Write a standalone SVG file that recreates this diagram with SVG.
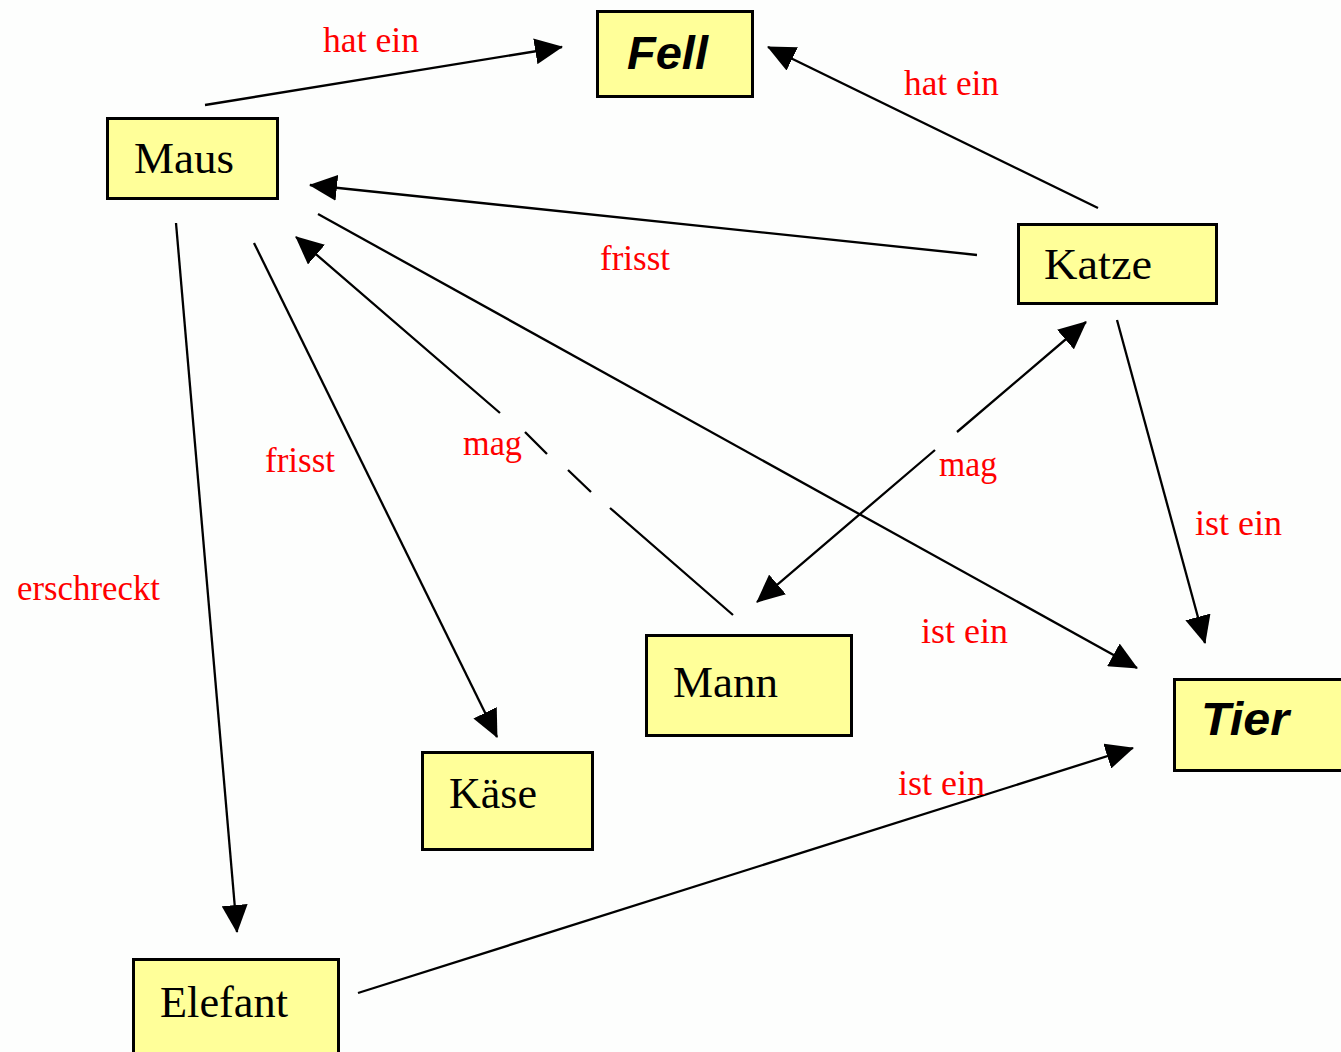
<svg xmlns="http://www.w3.org/2000/svg" width="1341" height="1052" viewBox="0 0 1341 1052">
  <style>
    .box { fill: #FFFF99; stroke: #000000; stroke-width: 3; }
    .ntext { font-family: "Liberation Serif", "Times New Roman", serif; font-size: 45px; fill: #000000; }
    .btext { font-family: "Liberation Sans", Arial, sans-serif; font-size: 46px; font-weight: bold; font-style: italic; fill: #000000; }
    .label { font-family: "Liberation Serif", "Times New Roman", serif; font-size: 35px; fill: #FF0000; }
    .edge { fill: none; stroke: #000000; stroke-width: 2.3; }
  </style>
  <defs>
    <marker id="arrow" viewBox="0 0 28 26" markerWidth="28" markerHeight="26" refX="27" refY="13" orient="auto-start-reverse" markerUnits="userSpaceOnUse">
      <path d="M0,0 L28,13 L0,26 z" fill="#000000"/>
    </marker>
  </defs>
  <rect x="0" y="0" width="1341" height="1052" fill="#FDFEFD"/>

  <g id="connectors">
    <path class="edge" d="M205,105 L562,47" marker-end="url(#arrow)"/>
    <path class="edge" d="M1098,208 L768,47" marker-end="url(#arrow)"/>
    <path class="edge" d="M977,255 L310,185" marker-end="url(#arrow)"/>
    <path class="edge" d="M254,243 L497,737" marker-end="url(#arrow)"/>
    <path class="edge" d="M733,615 L610,508 M591,492 L568,470 M547,454 L525,432 M500,413 L296,237" marker-end="url(#arrow)"/>
    <path class="edge" d="M757,602 L935,450 M957,432 L1086,322" marker-start="url(#arrow)" marker-end="url(#arrow)"/>
    <path class="edge" d="M318,214 L1137,668" marker-end="url(#arrow)"/>
    <path class="edge" d="M1117,320 L1205,643" marker-end="url(#arrow)"/>
    <path class="edge" d="M358,993 L1133,748" marker-end="url(#arrow)"/>
    <path class="edge" d="M176,223 L237,932" marker-end="url(#arrow)"/>
  </g>

  <g id="labels">
    <text class="label" x="323" y="52" textLength="96" lengthAdjust="spacingAndGlyphs">hat ein</text>
    <text class="label" x="904" y="95" textLength="95" lengthAdjust="spacingAndGlyphs">hat ein</text>
    <text class="label" x="600" y="270" textLength="70" lengthAdjust="spacingAndGlyphs">frisst</text>
    <text class="label" x="265" y="472" textLength="70" lengthAdjust="spacingAndGlyphs">frisst</text>
    <text class="label" x="463" y="455" textLength="59" lengthAdjust="spacingAndGlyphs">mag</text>
    <text class="label" x="939" y="476" textLength="58" lengthAdjust="spacingAndGlyphs">mag</text>
    <text class="label" x="1195" y="535" textLength="87" lengthAdjust="spacingAndGlyphs">ist ein</text>
    <text class="label" x="921" y="643" textLength="87" lengthAdjust="spacingAndGlyphs">ist ein</text>
    <text class="label" x="898" y="795" textLength="87" lengthAdjust="spacingAndGlyphs">ist ein</text>
    <text class="label" x="17" y="600" textLength="143" lengthAdjust="spacingAndGlyphs">erschreckt</text>
  </g>

  <g id="node-maus">
    <rect class="box" x="107.5" y="118.5" width="170" height="80"/>
    <text class="ntext" x="134" y="173" textLength="100" lengthAdjust="spacingAndGlyphs">Maus</text>
  </g>
  <g id="node-fell">
    <rect class="box" x="597.5" y="11.5" width="155" height="85"/>
    <text class="btext" x="627" y="69" textLength="81" lengthAdjust="spacingAndGlyphs">Fell</text>
  </g>
  <g id="node-katze">
    <rect class="box" x="1018.5" y="224.5" width="198" height="79"/>
    <text class="ntext" x="1044" y="279" textLength="108" lengthAdjust="spacingAndGlyphs">Katze</text>
  </g>
  <g id="node-mann">
    <rect class="box" x="646.5" y="635.5" width="205" height="100"/>
    <text class="ntext" x="673" y="697" textLength="105" lengthAdjust="spacingAndGlyphs">Mann</text>
  </g>
  <g id="node-kaese">
    <rect class="box" x="422.5" y="752.5" width="170" height="97"/>
    <text class="ntext" x="449" y="808" textLength="88" lengthAdjust="spacingAndGlyphs">Käse</text>
  </g>
  <g id="node-tier">
    <rect class="box" x="1174.5" y="679.5" width="175" height="91"/>
    <text class="btext" x="1201" y="735" textLength="88" lengthAdjust="spacingAndGlyphs">Tier</text>
  </g>
  <g id="node-elefant">
    <rect class="box" x="133.5" y="959.5" width="205" height="100"/>
    <text class="ntext" x="160" y="1017" textLength="128" lengthAdjust="spacingAndGlyphs">Elefant</text>
  </g>
</svg>
